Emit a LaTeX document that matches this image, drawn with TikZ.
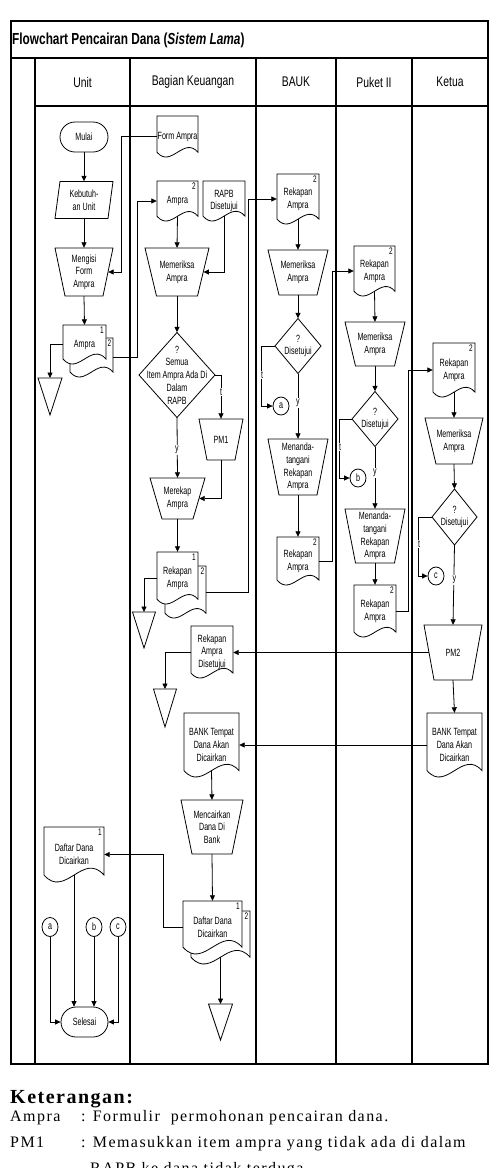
\documentclass[tikz,border=0pt]{standalone}
\usepackage{fontspec}
\usetikzlibrary{arrows.meta,shapes.misc,shapes.geometric,calc}
\newfontfamily\nar[FakeStretch=0.74]{Liberation Sans}
\newfontfamily\narb[FakeStretch=0.68]{Liberation Sans}
\newfontfamily\legb[LetterSpace=7.5]{Liberation Serif}
\newfontfamily\legr[LetterSpace=9]{Liberation Serif}
\tikzset{
  shp/.style={draw, fill=white, line width=0.8pt},
  txt/.style={font=\narb\fontsize{10.5}{12.7}\selectfont, align=center, inner sep=0pt},
  numt/.style={font=\narb\fontsize{9.5}{10}\selectfont, inner sep=0.5pt},
  arr/.style={draw, line width=0.8pt, -{Triangle[length=5.5pt,width=5pt]}},
  ln/.style={draw, line width=0.8pt},
  lbl/.style={txt, fill=white, inner sep=1pt},
  term/.style={txt, rounded rectangle, draw, line width=0.8pt, minimum width=48pt, minimum height=30pt},
  circ/.style={txt, ellipse, draw, line width=0.8pt, minimum width=16pt, minimum height=18pt},
  frm/.style={line width=1.2pt},
  hdr/.style={font=\nar\fontsize{14}{16}\selectfont, inner sep=0pt},
  leg/.style={anchor=base west, inner sep=0pt, font=\legr\fontsize{16}{18}\selectfont}
}
% document outline: cx, top, w, H (total)
\newcommand{\DocPath}[4]{%
  \pgfmathsetmacro\qL{#1-#3/2}%
  \pgfmathsetmacro\qR{#1+#3/2}%
  \pgfmathsetmacro\qT{#2}%
  \pgfmathsetmacro\qC{0.4*#3}%
  \pgfmathsetmacro\qK{0.35*#3}%
  \pgfmathsetmacro\qB{#2+#4-0.289*\qC}%
  \draw[shp] (\qL,\qT) -- (\qR,\qT) -- (\qR,\qB) .. controls +(-\qK,-\qC) and +(\qK,\qC) .. (\qL,\qB) -- cycle;%
}
% name, cx, top, w, H, text, number
\newcommand{\FDoc}[7]{%
  \DocPath{#2}{#3}{#4}{#5}%
  \node[txt, minimum width=#4, minimum height=#5] (#1) at (#2,{#3+#5/2}) {#6};%
  \coordinate (#1-b) at (#2,\qB);%
  \node[numt, anchor=north east] (#1-n) at ({#2+#4/2-1.5},{#3+1.5}) {#7};%
}
% name, cx, top, w, H, text, dx, dy
\newcommand{\FMDoc}[8]{%
  \DocPath{#2+#7}{#3+#8}{#4}{#5}%
  \node[txt, minimum width=#4, minimum height=#5] (#1-2) at ({#2+#7},{#3+#8+#5/2}) {};%
  \coordinate (#1-2-b) at ({#2+#7},\qB);%
  \node[numt, anchor=north east] (#1-n2) at ({#2+#7+#4/2-1},{#3+#8+1.5}) {2};%
  \FDoc{#1}{#2}{#3}{#4}{#5}{#6}{1}%
}
% name cx top wtop wbot bottom text
\newcommand{\FMan}[7]{%
  \draw[shp] ({#2-#4/2},#3) -- ({#2+#4/2},#3) -- ({#2+#5/2},#6) -- ({#2-#5/2},#6) -- cycle;%
  \node[txt, minimum width={(#4+#5)/2}, minimum height={#6-#3}] (#1) at (#2,{(#3+#6)/2}) {#7};%
}
% name cx cy w h text
\newcommand{\FDec}[6]{%
  \draw[shp] (#2,{#3-#5/2}) -- ({#2+#4/2},#3) -- (#2,{#3+#5/2}) -- ({#2-#4/2},#3) -- cycle;%
  \node[txt, minimum width=#4, minimum height=#5] (#1) at (#2,#3) {#6};%
}
% name cx cy w h slant text
\newcommand{\FPar}[7]{%
  \draw[shp] ({#2-#4/2+#6},{#3-#5/2}) -- ({#2+#4/2},{#3-#5/2}) -- ({#2+#4/2-#6},{#3+#5/2}) -- ({#2-#4/2},{#3+#5/2}) -- cycle;%
  \node[txt, minimum width={#4-#6}, minimum height=#5] (#1) at (#2,#3) {#7};%
}
% name x top w h
\newcommand{\FTri}[5]{%
  \coordinate (#1) at (#2,#3);%
  \draw[shp] ({#2-#4/2},#3) -- ({#2+#4/2},#3) -- (#2,{#3+#5}) -- cycle;%
}
\begin{document}
\begin{tikzpicture}[x=1pt,y=-1pt]
\useasboundingbox (0,0) rectangle (492,1168);
\fill[white] (0,0) rectangle (492,1168);
% frame
\draw[frm] (11,21) rectangle (488,1064);
\draw[frm] (11,58) -- (488,58);
\draw[frm] (35,106) -- (488,106);
\foreach \x in {35,130,256,336,412} \draw[frm] (\x,58) -- (\x,1064);
\node[font=\nar\bfseries\fontsize{16}{18}\selectfont, anchor=west, inner sep=0pt] (title) at (12,40) {Flowchart Pencairan Dana (\textit{Sistem Lama})};
\node[hdr] (hUnit) at (82.5,82) {Unit};
\node[hdr] (hBag) at (193,82) {Bagian Keuangan};
\node[hdr] (hBauk) at (296,82) {BAUK};
\node[hdr] (hPuket) at (374,82) {Puket II};
\node[hdr] (hKetua) at (450,82) {Ketua};

% Unit
\node[term] (mulai) at (84,137) {Mulai};
\FPar{keb}{84}{200}{58}{37}{5}{Kebutuh-\\an Unit}
\FMan{mengisi}{84}{248}{58}{38}{296}{Mengisi\\Form\\Ampra}
\FMDoc{ampraU}{84.5}{325}{43}{39}{Ampra}{7}{13}
\FTri{triU}{50}{378}{24}{37}

% Bagian Keuangan
\FDoc{formA}{177.5}{116}{41}{41}{Form Ampra}{}
\FDoc{ampraB}{177.5}{181}{41}{40}{Ampra}{2}
\FDoc{rapb}{224}{181}{42}{40}{RAPB\\Disetujui}{}
\FMan{memB}{177}{248}{64}{41}{296}{Memeriksa\\Ampra}
\FDec{dec1}{177}{375}{76}{85}{?\\Semua\\Item Ampra Ada Di\\Dalam\\RAPB}
\FMan{pm1}{221}{419}{44}{28}{460}{PM1}
\FMan{merekap}{177.5}{478}{55}{31}{519}{Merekap\\Ampra}
\FMDoc{rekB}{177.5}{552}{41}{52}{Rekapan\\Ampra}{8}{14}
\FTri{triB1}{144}{612}{23}{36}
\FDoc{rekDis}{212}{626}{42}{52}{Rekapan\\Ampra\\Disetujui}{}
\FTri{triB2}{165}{689}{23}{38}
\FDoc{bankB}{211.5}{713}{55}{64}{BANK Tempat\\Dana Akan\\Dicairkan}{}
\FMan{cair}{212}{800}{62}{40}{854}{Mencairkan\\Dana Di\\Bank}
\FMDoc{daftarB}{212.5}{901}{59}{53}{Daftar Dana\\Dicairkan}{8}{10}
\FTri{triB3}{220.5}{1004}{24}{36}

% BAUK
\FDoc{rekC}{298}{174}{42}{50}{Rekapan\\Ampra}{2}
\FMan{memC}{298}{250}{60}{38}{295}{Memeriksa\\Ampra}
\FDec{dec2}{298}{346}{46}{55}{?\\Disetujui}
\node[circ] (ca) at (281,406) {a};
\FMan{tandaC}{298}{439}{60}{38}{495}{Menanda-\\tangani\\Rekapan\\Ampra}
\FDoc{rekC2}{298}{537}{42}{48}{Rekapan\\Ampra}{2}

% Puket II
\FDoc{rekD}{374.5}{246}{41}{50}{Rekapan\\Ampra}{2}
\FMan{memD}{375}{322}{60}{39}{366}{Memeriksa\\Ampra}
\FDec{dec3}{375}{419}{46}{55}{?\\Disetujui}
\node[circ] (cb) at (358,478) {b};
\FMan{tandaD}{375}{509}{60}{39}{563}{Menanda-\\tangani\\Rekapan\\Ampra}
\FDoc{rekD2}{375}{585}{42}{52}{Rekapan\\Ampra}{2}

% Ketua
\FDoc{rekE}{454}{343}{42}{54}{Rekapan\\Ampra}{2}
\FMan{memE}{454}{418}{58}{36}{464}{Memeriksa\\Ampra}
\FDec{dec4}{454.5}{517}{45}{56}{?\\Disetujui}
\node[circ] (cc) at (436,576) {c};
\FMan{pm2}{453}{625}{58}{38}{680}{PM2}
\FDoc{bankE}{454.5}{713}{55}{64}{BANK Tempat\\Dana Akan\\Dicairkan}{}

% Unit bottom
\FDoc{daftarU}{74}{827}{60}{55}{Daftar Dana\\Dicairkan}{1}
\node[circ, minimum height=19pt] (ca2) at (50,927) {a};
\node[circ, minimum height=19pt] (cb2) at (94,927) {b};
\node[circ, minimum height=19pt] (cc2) at (118,927) {c};
\node[term, minimum width=47pt] (selesai) at (84.5,1022) {Selesai};

% connectors
\draw[arr] (mulai.south) -- (keb.north);
\draw[arr] (keb.south) -- (mengisi.north);
\draw[arr] (mengisi.south) -- (ampraU.north);
\draw[arr] (ampraU.west) -| (triU);
\draw[arr] (ampraU-2.east) -- ++(24,0) |- (ampraB.west);
\draw[arr] (formA.west) -- ++(-35,0) |- (mengisi.east);
\draw[arr] (ampraB-b) -- (memB.north);
\draw[arr] (rapb-b) |- (memB.east);
\draw[arr] (memB.south) -- (dec1.north);
\draw[arr] (dec1.east) -| (pm1.north);
\draw[arr] (dec1.south) -- (merekap.north);
\draw[arr] (pm1.south) |- (merekap.east);
\draw[arr] (merekap.south) -- (rekB.north);
\draw[arr] (rekB.west) -| (triB1);
\draw[arr] (rekB-2.east) -- ++(42,0) |- (rekC.west);
\draw[arr] (rekC-b) -- (memC.north);
\draw[arr] (memC.south) -- (dec2.north);
\draw[arr] (dec2.west) -- ++(-13,0) |- (ca.west);
\draw[arr] (dec2.south) -- (tandaC.north);
\draw[arr] (tandaC.south) -- (rekC2.north);
\draw[arr] (rekC2.east) -- ++(13,0) |- (rekD.west);
\draw[arr] (rekD-b) -- (memD.north);
\draw[arr] (memD.south) -- (dec3.north);
\draw[arr] (dec3.west) -- ++(-12,0) |- (cb.west);
\draw[arr] (dec3.south) -- (tandaD.north);
\draw[arr] (tandaD.south) -- (rekD2.north);
\draw[arr] (rekD2.east) -- ++(12,0) |- (rekE.west);
\draw[arr] (rekE-b) -- (memE.north);
\draw[arr] (memE.south) -- (dec4.north);
\draw[arr] (dec4.west) -- ++(-13,0) |- (cc.west);
\draw[arr] (dec4.south) -- (pm2.north);
\draw[arr] (pm2.west) -- (pm2.west -| rekDis.east);
\draw[arr] (rekDis.west) -| (triB2);
\draw[arr] (pm2.south) -- (bankE.north);
\draw[arr] (bankE.west) -- (bankE.west -| bankB.east);
\draw[arr] (bankB-b) -- (cair.north);
\draw[arr] (cair.south) -- (daftarB.north);
\draw[arr] (daftarB.west) -- ++(-19,0) |- (daftarU.east);
\draw[arr] (daftarB-2-b) -- (triB3);
\draw[arr] (daftarU-b) -- (daftarU-b |- selesai.north);
\draw[arr] (cb2.south) -- (cb2.south |- selesai.north);
\draw[arr] (ca2.south) |- (selesai.west);
\draw[arr] (cc2.south) |- (selesai.east);

% branch labels
\node[lbl] (t1) at (221,392) {t};
\node[lbl] (y1) at (177,450) {y};
\node[lbl] (t2) at (262,375) {t};
\node[lbl] (y2) at (298,403) {y};
\node[lbl] (t3) at (340,447) {t};
\node[lbl] (y3) at (375,473) {y};
\node[lbl] (t4) at (419,544) {t};
\node[lbl] (y4) at (454.5,580) {y};

% legend
\node[anchor=base west, inner sep=0pt, font=\legb\bfseries\fontsize{20}{22}\selectfont] (ket) at (10,1103) {Keterangan:};
\node[leg] (k1) at (10,1121) {Ampra};
\node[leg] (k1t) at (81,1121) {: Formulir\ \ permohonan pencairan dana.};
\node[leg] (k2) at (10,1147) {PM1};
\node[leg] (k2t) at (81,1147) {: Memasukkan item ampra yang tidak ada di dalam};
\node[leg] (k3t) at (90,1173) {RAPB ke dana tidak terduga.};
\end{tikzpicture}
\end{document}
